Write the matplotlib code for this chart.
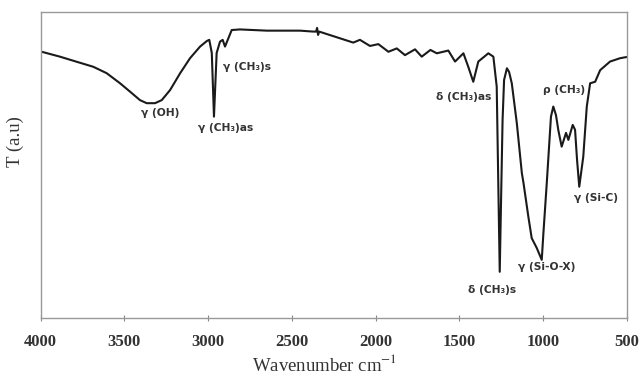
import matplotlib
matplotlib.use("Agg")
import matplotlib.pyplot as plt

plt.rcParams["mathtext.fontset"] = "stix"

# FTIR spectrum (wavenumber, transmittance in arbitrary units)
wavenumber = [3994, 3885, 3765, 3686, 3606, 3526, 3467, 3407, 3367, 3317,
              3277, 3227, 3167, 3108, 3048, 3008, 2993, 2978, 2965, 2949,
              2929, 2913, 2899, 2879, 2859, 2810, 2648, 2451, 2373, 2355,
              2349, 2343, 2337, 2212, 2133, 2093, 2033, 1983, 1923, 1873,
              1824, 1764, 1724, 1672, 1634, 1565, 1525, 1475, 1446, 1416,
              1386, 1326, 1296, 1276, 1265, 1258, 1250, 1241, 1232, 1215,
              1202, 1186, 1156, 1126, 1116, 1087, 1067, 1037, 1007, 997,
              977, 952, 938, 922, 908, 888, 862, 848, 822, 808,
              796, 783, 759, 738, 718, 688, 658, 599, 539, 498]
transmit = [86.9, 85.3, 83.3, 82.0, 79.9, 76.6, 73.9, 71.1, 70.1, 70.1,
            71.1, 74.4, 79.9, 84.8, 88.6, 90.4, 90.8, 86.5, 65.7, 86.5,
            90.2, 90.8, 88.6, 91.3, 94.0, 94.2, 93.8, 93.8, 93.5, 93.5,
            94.7, 92.4, 93.5, 91.3, 89.9, 90.8, 88.8, 89.4, 86.9, 88.0,
            85.8, 87.7, 85.3, 87.5, 86.4, 87.3, 83.7, 86.4, 82.0, 77.1,
            83.7, 86.4, 85.3, 75.5, 38.5, 15.0, 38.5, 64.6, 77.7, 81.5,
            80.3, 76.6, 63.6, 47.3, 44.0, 33.0, 26.0, 22.8, 18.9, 27.7,
            44.0, 65.7, 69.0, 66.2, 61.3, 55.9, 60.4, 58.1, 63.0, 61.4,
            51.5, 42.8, 52.6, 69.0, 76.6, 77.1, 80.9, 83.7, 84.8, 85.2]

# band labels: text, wavenumber, T
band_text = ["γ (OH)", "γ (CH₃)as", "γ (CH₃)s", "δ (CH₃)as", "ρ (CH₃)",
             "γ (Si-C)", "γ (Si-O-X)", "δ (CH₃)s"]
band_wn = [3287, 2898, 2766, 1472, 871, 683, 977, 1304]
band_t = [67.0, 62.0, 82.0, 72.0, 74.4, 39.1, 16.6, 9.0]

fig = plt.figure(figsize=(6.4, 3.83), dpi=100)
ax = fig.add_axes([0.0636, 0.1705, 0.9155, 0.799])

ax.plot(wavenumber, transmit, color="#1a1a1a", lw=1.5)

for txt, x, y in zip(band_text, band_wn, band_t):
    ax.text(x, y, txt, ha="center", va="center", fontsize=7.7,
            fontweight="bold", color="#333333", family="DejaVu Sans")

ax.set_xlim(4000, 500)
ax.set_ylim(0, 100)
ax.set_xticks([4000, 3500, 3000, 2500, 2000, 1500, 1000, 500])
ax.set_yticks([])
for lab in ax.get_xticklabels():
    lab.set_fontfamily("Liberation Serif")
    lab.set_fontweight("bold")
    lab.set_fontsize(12)
    lab.set_color("#333333")
ax.tick_params(axis="x", direction="inout", length=5, color="#888888", pad=9)

for s in ax.spines.values():
    s.set_color("#999999")
    s.set_linewidth(1.0)

ax.set_ylabel("T (a.u)", family="Liberation Serif", fontsize=13.5, color="#333333")
ax.yaxis.set_label_coords(-0.028, 0.577)
ax.set_xlabel("Wavenumber cm$^{-1}$", family="Liberation Serif", fontsize=13.5,
              color="#333333")
ax.xaxis.set_label_coords(0.485, -0.12)

fig.savefig("out.png", dpi=100)
